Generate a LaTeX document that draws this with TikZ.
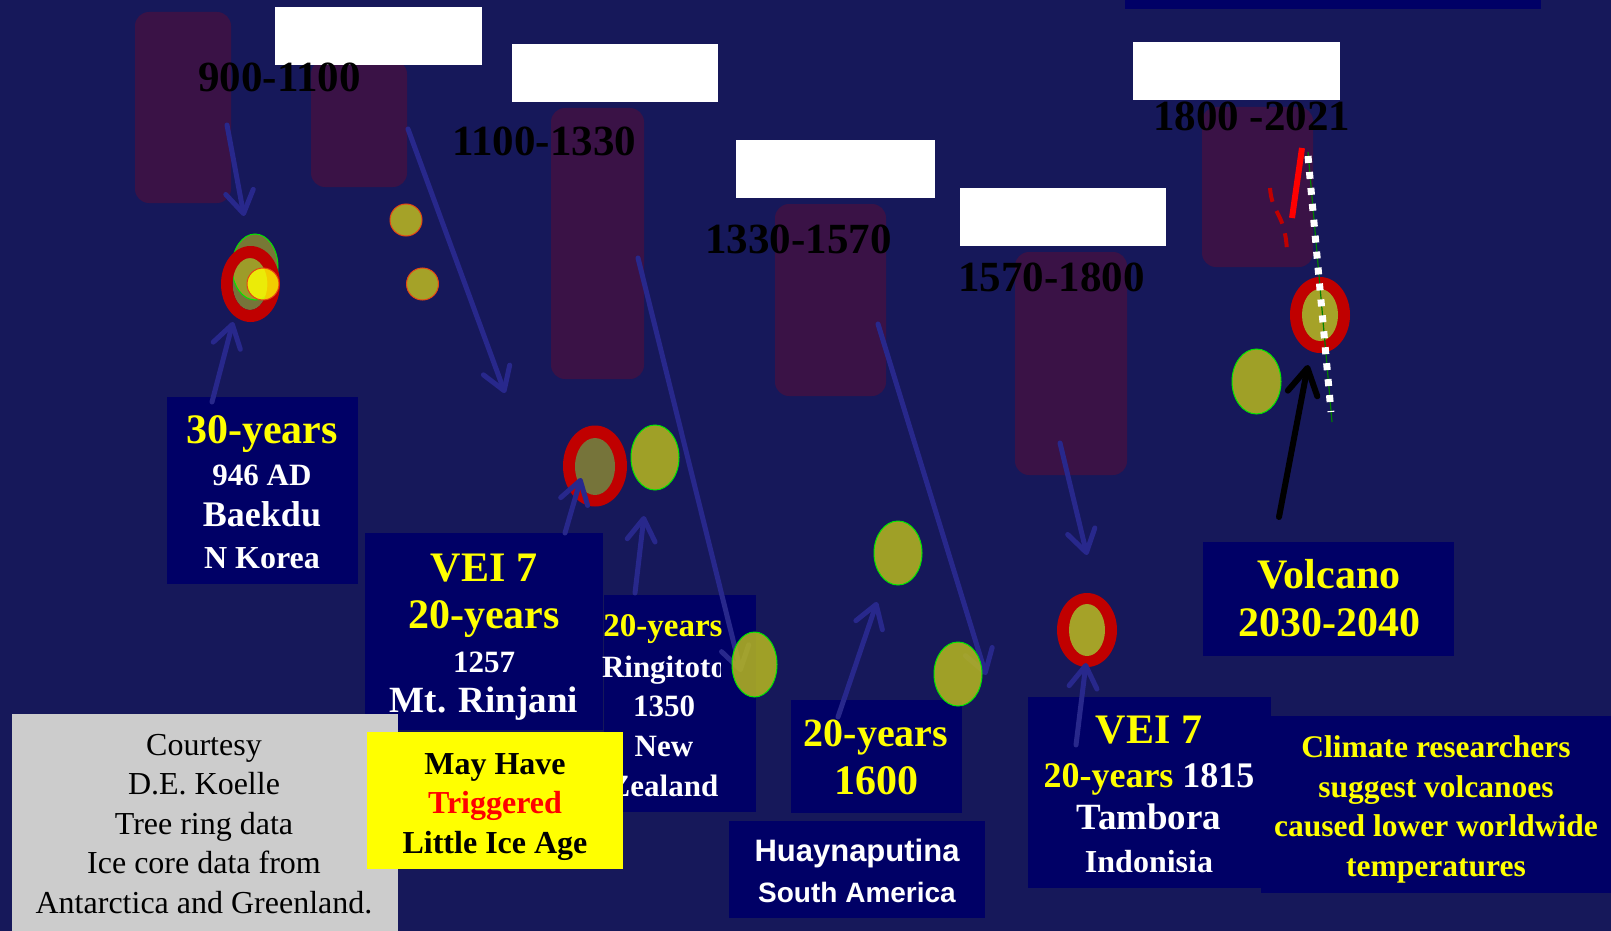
\documentclass[tikz,border=0pt]{standalone}
\usepackage{fontspec}
\setmainfont{Liberation Serif}
\newfontfamily\sansbf{Liberation Sans}
\usetikzlibrary{arrows.meta,shapes.geometric}
\definecolor{bg}{RGB}{22,24,90}
\definecolor{navy}{RGB}{0,0,102}
\definecolor{purp}{RGB}{58,18,70}
\definecolor{arrowblue}{RGB}{40,40,140}
\definecolor{olivef}{RGB}{184,184,31}
\definecolor{olivesolid}{RGB}{165,162,40}
\definecolor{dullolive}{RGB}{118,116,58}
\definecolor{ringred}{RGB}{192,0,0}
\definecolor{ltgray}{RGB}{204,204,204}
\definecolor{yel}{RGB}{255,255,0}
\definecolor{vgreen}{RGB}{0,230,0}
\definecolor{orng}{RGB}{230,70,20}
\newcommand\fsz[1]{\fontsize{#1}{#1}\selectfont}
\tikzset{
  box/.style={fill=navy, inner sep=0pt, outer sep=0pt, draw=none},
  era/.style={fill=purp, rounded corners=14pt},
  blank/.style={fill=white},
  period/.style={anchor=base west, inner sep=0pt, text=black, font=\bfseries\fsz{43}},
  txt/.style={anchor=base, inner sep=0pt, font=\bfseries},
  yt/.style={txt, text=yel},
  wt/.style={txt, text=white},
  barrow/.style={draw=arrowblue, line width=5pt, line cap=round,
     -{Straight Barb[length=22pt,width=28pt,line cap=round,line join=round]}},
  karrow/.style={draw=black, line width=6pt, line cap=round,
     -{Straight Barb[length=26pt,width=30pt,line cap=round,line join=round]}},
  oliveell/.style={fill=olivef, fill opacity=0.85, draw=vgreen, line width=1pt},
  smallcirc/.style={fill=olivesolid, draw=orng, line width=1pt},
}
\begin{document}
\begin{tikzpicture}[x=1pt,y=-1pt]
\useasboundingbox (0,0) rectangle (1611,931);
\fill[bg] (0,0) rectangle (1611,931);
% top strip
\fill[navy] (1125,-5) rectangle (1541,9);
% era blocks
\fill[era] (135,12) rectangle (231,203);
\fill[era] (311,60) rectangle (407,187);
\fill[era] (551,108) rectangle (644,379);
\fill[era] (775,204) rectangle (886,396);
\fill[era] (1015,252) rectangle (1127,475);
\fill[era] (1202,107) rectangle (1313,267);
% white blanks
\fill[blank] (275,7) rectangle (482,65);
\fill[blank] (512,44) rectangle (718,102);
\fill[blank] (736,140) rectangle (935,198);
\fill[blank] (960,188) rectangle (1166,246);
\fill[blank] (1133,42) rectangle (1340,100);
% period labels
\node[period] (p1) at (198,92) {900-1100};
\node[period] (p2) at (452,155) {1100-1330};
\node[period] (p3) at (705,253) {1330-1570};
\node[period] (p4) at (958,291) {1570-1800};
\node[period] (p5) at (1153,131) {1800 -2021};

% Baekdu box
\node[box, minimum width=191pt, minimum height=187pt] (bBaek) at (262.5,490.5) {};
\node[yt, font=\bfseries\fsz{42}] (tB1) at (262,443) {30-years};
\node[wt, font=\bfseries\fsz{31}] (tB2) at (262,485) {946 AD};
\node[wt, font=\bfseries\fsz{36}] (tB3) at (262,526) {Baekdu};
\node[wt, font=\bfseries\fsz{32}] (tB4) at (262,568) {N Korea};

% Rinjani box
\node[box, minimum width=238pt, minimum height=197pt] (bRin) at (484,631.5) {};
\node[yt, font=\bfseries\fsz{42}] (tR1) at (484,581) {VEI 7};
\node[yt, font=\bfseries\fsz{42}] (tR2) at (484,628) {20-years};
\node[wt, font=\bfseries\fsz{31}] (tR3) at (484,672) {1257};
\node[wt, font=\bfseries\fsz{37}] (tR4) at (484,712) {Mt. Rinjani};

% Ringitoto box
\node[box, minimum width=152pt, minimum height=217pt] (bRing) at (680,703.5) {};
\node[yt, font=\bfseries\fsz{33}] (tG1) at (663,636) {20-years};
\begin{scope}
\clip (600,650) rectangle (720,690);
\node[wt, font=\bfseries\fsz{31}] (tG2) at (664,677) {Ringitoto};
\end{scope}
\node[wt, font=\bfseries\fsz{31}] (tG3) at (664,716) {1350};
\node[wt, font=\bfseries\fsz{31}] (tG4) at (664,756) {New};
\node[wt, font=\bfseries\fsz{31}] (tG5) at (664,796) {Zealand};

% Courtesy box
\node[fill=ltgray, inner sep=0pt, minimum width=386pt, minimum height=230pt] (bCourt) at (205,829) {};
\node[txt, font=\fsz{32}, text=black] (tC1) at (204,755) {Courtesy};
\node[txt, font=\fsz{32}, text=black] (tC2) at (204,794) {D.E. Koelle};
\node[txt, font=\fsz{32}, text=black] (tC3) at (204,834) {Tree ring data};
\node[txt, font=\fsz{32}, text=black] (tC4) at (204,873) {Ice core data from};
\node[txt, font=\fsz{32}, text=black] (tC5) at (204,913) {Antarctica and Greenland.};

% Yellow box
\node[fill=yel, inner sep=0pt, minimum width=256pt, minimum height=137pt] (bYel) at (495,800.5) {};
\node[txt, font=\bfseries\fsz{32}, text=black] (tY1) at (495,774) {May Have};
\node[txt, font=\bfseries\fsz{32}, text=red] (tY2) at (495,813) {Triggered};
\node[txt, font=\bfseries\fsz{32}, text=black] (tY3) at (495,853) {Little Ice Age};

% 1600 box
\node[box, minimum width=171pt, minimum height=113pt] (b1600) at (876.5,756.5) {};
\node[yt, font=\bfseries\fsz{40}] (tS1) at (876,746) {20-years};
\node[yt, font=\bfseries\fsz{42}] (tS2) at (876,794) {1600};

% Huaynaputina box
\node[box, minimum width=256pt, minimum height=97pt] (bHuay) at (857,869.5) {};
\node[anchor=base, inner sep=0pt, text=white, font=\sansbf\bfseries\fsz{31}] (tH1) at (857,861) {Huaynaputina};
\node[anchor=base, inner sep=0pt, text=white, font=\sansbf\bfseries\fsz{28}] (tH2) at (857,902) {South America};

% Climate box
\node[box, minimum width=350pt, minimum height=177pt] (bClim) at (1436,804.5) {};
\node[yt, font=\bfseries\fsz{31.5}] (tK1) at (1436,757) {Climate researchers};
\node[yt, font=\bfseries\fsz{31.5}] (tK2) at (1436,797) {suggest volcanoes};
\node[yt, font=\bfseries\fsz{31.5}] (tK3) at (1436,836) {caused lower worldwide};
\node[yt, font=\bfseries\fsz{31.5}] (tK4) at (1436,876) {temperatures};

% Tambora box
\node[box, minimum width=243pt, minimum height=191pt] (bTam) at (1149.5,792.5) {};
\node[yt, font=\bfseries\fsz{42}] (tT1) at (1149,743) {VEI 7};
\node[txt, font=\bfseries\fsz{36}] (tT2) at (1149,787) {\textcolor{yel}{20-years} \textcolor{white}{1815}};
\node[wt, font=\bfseries\fsz{37}] (tT3) at (1149,829) {Tambora};
\node[wt, font=\bfseries\fsz{32}] (tT4) at (1149,872) {Indonisia};

% Volcano box
\node[box, minimum width=251pt, minimum height=114pt] (bVol) at (1328.5,599) {};
\node[yt, font=\bfseries\fsz{42}] (tV1) at (1329,588) {Volcano};
\node[yt, font=\bfseries\fsz{42}] (tV2) at (1329,636) {2030-2040};

% cluster 1 (Baekdu)
\fill[dullolive] (250,284) ellipse [x radius=17.5, y radius=26];
\draw[fill=olivef, fill opacity=0.6, draw=vgreen, line width=1pt] (255,267) ellipse [x radius=23, y radius=33];
\fill[ringred, even odd rule] (250.5,284) ellipse [x radius=29.5, y radius=38] (250,284) ellipse [x radius=17.5, y radius=26];
\draw[fill=yel, fill opacity=0.8, draw=orng, line width=1pt] (263,284) ellipse [x radius=16, y radius=16];
\node[smallcirc, ellipse, inner sep=0pt, minimum width=32pt, minimum height=32pt] (c1a) at (406,220) {};
\node[smallcirc, ellipse, inner sep=0pt, minimum width=32pt, minimum height=32pt] (c1b) at (422.5,284) {};

% cluster 2 (Rinjani)
\fill[ringred] (595,466) ellipse [x radius=32, y radius=40.5];
\fill[dullolive] (595,466.5) ellipse [x radius=20, y radius=28.5];

% Tambora ring
\fill[ringred] (1087,630) ellipse [x radius=30, y radius=37];
\fill[olivesolid] (1087,630) ellipse [x radius=18, y radius=26];

% 2030 ring
\fill[ringred] (1320,315) ellipse [x radius=30, y radius=38];
\fill[olivesolid] (1320,315) ellipse [x radius=18, y radius=26];

% arrow coordinates
\coordinate (a1s) at (227,125);  \coordinate (a1e) at (244,216);
\coordinate (a2s) at (408,129);  \coordinate (a2e) at (505,393);
\coordinate (a3s) at (212,402);  \coordinate (a3e) at (233,322);
\coordinate (a4s) at (565,533);  \coordinate (a4e) at (581,478);
\coordinate (a5s) at (635,593);  \coordinate (a5e) at (644,516);
\coordinate (a6s) at (638,258);  \coordinate (a6e) at (741,672);
\coordinate (a7s) at (838,717);  \coordinate (a7e) at (877,602);
\coordinate (a8s) at (878,324);  \coordinate (a8e) at (986,675);
\coordinate (a9s) at (1060,443); \coordinate (a9e) at (1087,555);
\coordinate (a10s) at (1076,745); \coordinate (a10e) at (1086,663);
\coordinate (a11s) at (1279,517); \coordinate (a11e) at (1308,365);

\draw[barrow] (a1s) -- (a1e);
\draw[barrow] (a2s) -- (a2e);
\draw[barrow] (a3s) -- (a3e);
\draw[barrow] (a4s) -- (a4e);
\draw[barrow] (a5s) -- (a5e);
\draw[barrow] (a6s) -- (a6e);
\draw[barrow] (a7s) -- (a7e);
\draw[barrow] (a8s) -- (a8e);
\draw[barrow] (a9s) -- (a9e);
\draw[barrow] (a10s) -- (a10e);
\draw[karrow] (a11s) -- (a11e);

% green-bordered olive ellipses
\draw[oliveell] (655,457.5) ellipse [x radius=24, y radius=32.5];
\draw[oliveell] (754.5,664.5) ellipse [x radius=22.5, y radius=32.5];
\draw[oliveell] (898,553) ellipse [x radius=24, y radius=32];
\draw[oliveell] (958,674) ellipse [x radius=24, y radius=32];
\draw[oliveell] (1256.5,381.5) ellipse [x radius=24.5, y radius=32.5];

% 1800-2021 trend marks
\coordinate (d1) at (1308,152); \coordinate (d2) at (1332,422);
\draw[green!50!black, line width=1.2pt] (d1) -- (d2);
\draw[white, line width=7pt, dash pattern=on 7pt off 9pt] (1308,156) -- (1331,412);
\draw[red, line width=6pt] (1302,148) -- (1292,218);
\draw[ringred, line width=4pt, dash pattern=on 14pt off 10pt] (1270,188) .. controls (1272,215) and (1285,212) .. (1287,251);
\end{tikzpicture}
\end{document}
